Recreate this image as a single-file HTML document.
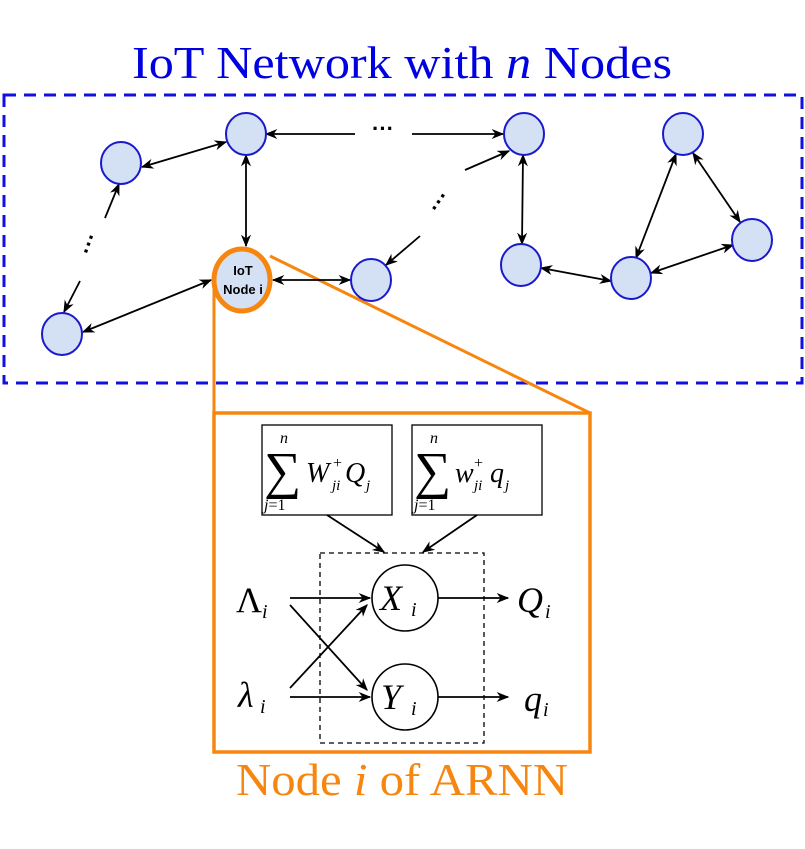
<!DOCTYPE html>
<html><head><meta charset="utf-8"><style>
html,body{margin:0;padding:0;background:#fff;}
svg{display:block;}
.m{font-family:"Liberation Serif",serif;font-style:italic;}
</style></head><body>
<svg width="805" height="849" viewBox="0 0 805 849" xmlns="http://www.w3.org/2000/svg">
<defs>
<marker id="a" viewBox="0 0 10 10" refX="9" refY="5" markerWidth="7" markerHeight="7" orient="auto-start-reverse"><path d="M0,1 L10,5 L0,9 L3,5 z" fill="#000"/></marker>
</defs>
<text x="402" y="78" text-anchor="middle" font-family="Liberation Serif, serif" font-size="46" fill="#0000e0" textLength="540" lengthAdjust="spacingAndGlyphs">IoT Network with <tspan font-style="italic">n</tspan> Nodes</text>
<rect x="4" y="95" width="798" height="288" fill="none" stroke="#1010e0" stroke-width="3" stroke-dasharray="12,8"/>
<line x1="214" y1="285" x2="214" y2="413" stroke="#f7860f" stroke-width="3"/>
<line x1="270" y1="256" x2="590" y2="413" stroke="#f7860f" stroke-width="3"/>
<rect x="214" y="413" width="376" height="339" fill="none" stroke="#f7860f" stroke-width="3.5"/>
<g stroke="#000" stroke-width="1.8" fill="none">
<line x1="226" y1="142" x2="142" y2="167" marker-start="url(#a)" marker-end="url(#a)"/>
<line x1="266" y1="134" x2="355" y2="134" marker-start="url(#a)"/>
<line x1="412" y1="134" x2="503" y2="134" marker-end="url(#a)"/>
<line x1="246" y1="155" x2="246" y2="246" marker-start="url(#a)" marker-end="url(#a)"/>
<line x1="105" y1="218" x2="119" y2="184" marker-end="url(#a)"/>
<line x1="80" y1="281" x2="64" y2="312" marker-end="url(#a)"/>
<line x1="211" y1="280" x2="83" y2="332" marker-start="url(#a)" marker-end="url(#a)"/>
<line x1="273" y1="280" x2="350" y2="280" marker-start="url(#a)" marker-end="url(#a)"/>
<line x1="420" y1="236" x2="386" y2="265" marker-end="url(#a)"/>
<line x1="465" y1="170" x2="509" y2="151" marker-end="url(#a)"/>
<line x1="523" y1="155" x2="522" y2="244" marker-start="url(#a)" marker-end="url(#a)"/>
<line x1="541" y1="268" x2="611" y2="281" marker-start="url(#a)" marker-end="url(#a)"/>
<line x1="636" y1="258" x2="676" y2="154" marker-start="url(#a)" marker-end="url(#a)"/>
<line x1="693" y1="153" x2="740" y2="222" marker-start="url(#a)" marker-end="url(#a)"/>
<line x1="651" y1="273" x2="733" y2="245" marker-start="url(#a)" marker-end="url(#a)"/>
</g>
<g font-family="Liberation Sans, sans-serif" font-weight="bold" font-size="22">
<text x="383" y="136" text-anchor="middle">···</text>
<text x="440" y="208" text-anchor="middle" transform="rotate(-55 440 202)">···</text>
<text x="90" y="250" text-anchor="middle" transform="rotate(-70 90 244)">···</text>
</g>
<g fill="#d4e0f4" stroke="#1a1acc" stroke-width="2">
<ellipse cx="121" cy="163" rx="20" ry="21"/>
<ellipse cx="246" cy="134" rx="20" ry="21"/>
<ellipse cx="524" cy="134" rx="20" ry="21"/>
<ellipse cx="683" cy="134" rx="20" ry="21"/>
<ellipse cx="752" cy="240" rx="20" ry="21"/>
<ellipse cx="631" cy="278" rx="20" ry="21"/>
<ellipse cx="521" cy="265" rx="20" ry="21"/>
<ellipse cx="371" cy="280" rx="20" ry="21"/>
<ellipse cx="62" cy="334" rx="20" ry="21"/>
</g>
<ellipse cx="242" cy="280" rx="28" ry="31" fill="#d4e0f4" stroke="#f7860f" stroke-width="5"/>
<text x="243" y="275" text-anchor="middle" font-family="Liberation Sans, sans-serif" font-weight="bold" font-size="13">IoT</text>
<text x="243" y="294" text-anchor="middle" font-family="Liberation Sans, sans-serif" font-weight="bold" font-size="13">Node i</text>
<rect x="262" y="425" width="130" height="90" fill="none" stroke="#000" stroke-width="1.3"/>
<rect x="412" y="425" width="130" height="90" fill="none" stroke="#000" stroke-width="1.3"/>
<g font-family="Liberation Serif, serif" fill="#000">
<text x="280" y="443" font-size="16" class="m">n</text>
<text x="264" y="488" font-size="52">∑</text>
<text x="264" y="510" font-size="16" class="m">j<tspan font-style="normal">=1</tspan></text>
<text x="306" y="482" font-size="28" class="m">W</text>
<text x="333" y="468" font-size="16">+</text>
<text x="332" y="490" font-size="15" class="m">ji</text>
<text x="345" y="482" font-size="28" class="m">Q</text>
<text x="366" y="490" font-size="15" class="m">j</text>
<text x="430" y="443" font-size="16" class="m">n</text>
<text x="414" y="488" font-size="52">∑</text>
<text x="414" y="510" font-size="16" class="m">j<tspan font-style="normal">=1</tspan></text>
<text x="455" y="482" font-size="28" class="m">w</text>
<text x="474" y="468" font-size="16">+</text>
<text x="474" y="490" font-size="15" class="m">ji</text>
<text x="490" y="482" font-size="28" class="m">q</text>
<text x="505" y="490" font-size="15" class="m">j</text>
</g>
<rect x="320" y="553" width="164" height="190" fill="none" stroke="#000" stroke-width="1.3" stroke-dasharray="5,4"/>
<g stroke="#000" stroke-width="1.8" fill="none">
<line x1="327" y1="515" x2="384" y2="552" marker-end="url(#a)"/>
<line x1="477" y1="515" x2="423" y2="552" marker-end="url(#a)"/>
<line x1="290" y1="598" x2="370" y2="598" marker-end="url(#a)"/>
<line x1="290" y1="697" x2="370" y2="697" marker-end="url(#a)"/>
<line x1="290" y1="605" x2="367" y2="690" marker-end="url(#a)"/>
<line x1="290" y1="688" x2="367" y2="605" marker-end="url(#a)"/>
<line x1="438" y1="598" x2="508" y2="598" marker-end="url(#a)"/>
<line x1="438" y1="697" x2="508" y2="697" marker-end="url(#a)"/>
</g>
<circle cx="405" cy="598" r="33" fill="#fff" stroke="#000" stroke-width="1.6"/>
<circle cx="405" cy="697" r="33" fill="#fff" stroke="#000" stroke-width="1.6"/>
<g font-family="Liberation Serif, serif" fill="#000">
<text x="380" y="610" font-size="36" class="m">X</text><text x="411" y="616" font-size="20" class="m">i</text>
<text x="381" y="709" font-size="36" class="m">Y</text><text x="411" y="715" font-size="20" class="m">i</text>
<text x="236" y="612" font-size="36">Λ</text><text x="262" y="618" font-size="20" class="m">i</text>
<text x="238" y="707" font-size="36" class="m">λ</text><text x="260" y="713" font-size="20" class="m">i</text>
<text x="517" y="612" font-size="36" class="m">Q</text><text x="545" y="618" font-size="20" class="m">i</text>
<text x="524" y="711" font-size="36" class="m">q</text><text x="543" y="716" font-size="20" class="m">i</text>
</g>
<text x="402" y="795" text-anchor="middle" font-family="Liberation Serif, serif" font-size="46" fill="#f7860f" textLength="332" lengthAdjust="spacingAndGlyphs">Node <tspan font-style="italic">i</tspan> of ARNN</text>
</svg>
</body></html>
